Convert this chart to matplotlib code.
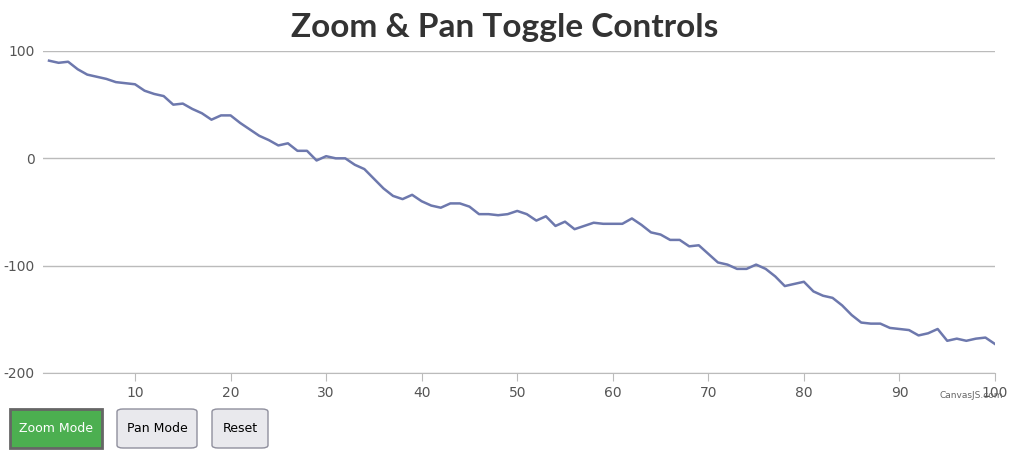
import matplotlib.pyplot as plt
from matplotlib.patches import FancyBboxPatch, Rectangle

plt.rcParams["axes.unicode_minus"] = False

# Data
x_vals = list(range(1, 101))
y_vals = [91, 89, 90, 83, 78, 76, 74, 71, 70, 69,
          63, 60, 58, 50, 51, 46, 42, 36, 40, 40,
          33, 27, 21, 17, 12, 14, 7, 7, -2, 2,
          0, 0, -6, -10, -19, -28, -35, -38, -34, -40,
          -44, -46, -42, -42, -45, -52, -52, -53, -52, -49,
          -52, -58, -54, -63, -59, -66, -63, -60, -61, -61,
          -61, -56, -62, -69, -71, -76, -76, -82, -81, -89,
          -97, -99, -103, -103, -99, -103, -110, -119, -117, -115,
          -124, -128, -130, -137, -146, -153, -154, -154, -158, -159,
          -160, -165, -163, -159, -170, -168, -170, -168, -167, -173]
x_ticks = [10, 20, 30, 40, 50, 60, 70, 80, 90, 100]
y_ticks = [-200, -100, 0, 100]
title = "Zoom & Pan Toggle Controls"

W, H = 1012, 458
fig = plt.figure(figsize=(W / 100, H / 100), dpi=100)
ax = fig.add_axes([43 / W, 1 - 373 / H, 952 / W, 322 / H])

ax.plot(x_vals, y_vals, color="#6D78AD", linewidth=1.8)
ax.set_xlim(0.37, 100)
ax.set_ylim(-200, 100)
ax.set_xticks(x_ticks)
ax.set_yticks(y_ticks)
ax.grid(axis="y", color="#BBBBBB", linewidth=1)
ax.set_axisbelow(True)
for s in ["top", "right", "left"]:
    ax.spines[s].set_visible(False)
ax.spines["bottom"].set_color("#BBBBBB")
ax.tick_params(axis="x", colors="#BBBBBB", length=6, labelcolor="#555555", labelsize=10)
ax.tick_params(axis="y", length=0, labelcolor="#555555", labelsize=10, pad=6)

fig.text(505 / W, 1 - 27 / H, title, ha="center", va="center",
         fontsize=24, fontweight="bold", color="#333333", family="Lato")

fig.text(1003 / W, 1 - 396 / H, "CanvasJS.com", ha="right", va="center",
         fontsize=6.5, color="#666666")

# buttons
buttons = [
    ("Zoom Mode", 10, 102, "#4CAF50", "#666666", "white"),
    ("Pan Mode", 117, 197, "#E9E9ED", "#8F8F9D", "black"),
    ("Reset", 212, 268, "#E9E9ED", "#8F8F9D", "black"),
]
for label, x0, x1, fc, ec, tc in buttons:
    if label == "Zoom Mode":
        patch = Rectangle((x0 / W, 1 - 448 / H), (x1 - x0) / W, 39 / H,
                          transform=fig.transFigure, facecolor=fc,
                          edgecolor=ec, linewidth=2)
    else:
        patch = FancyBboxPatch((x0 / W, 1 - 448 / H), (x1 - x0) / W, 39 / H,
                               boxstyle="round,pad=0,rounding_size=0.006",
                               transform=fig.transFigure, facecolor=fc,
                               edgecolor=ec, linewidth=1)
    fig.add_artist(patch)
    fig.text((x0 + x1) / 2 / W, 1 - 429 / H, label, ha="center", va="center",
             fontsize=9, color=tc)

fig.savefig("out.png", dpi=100)
